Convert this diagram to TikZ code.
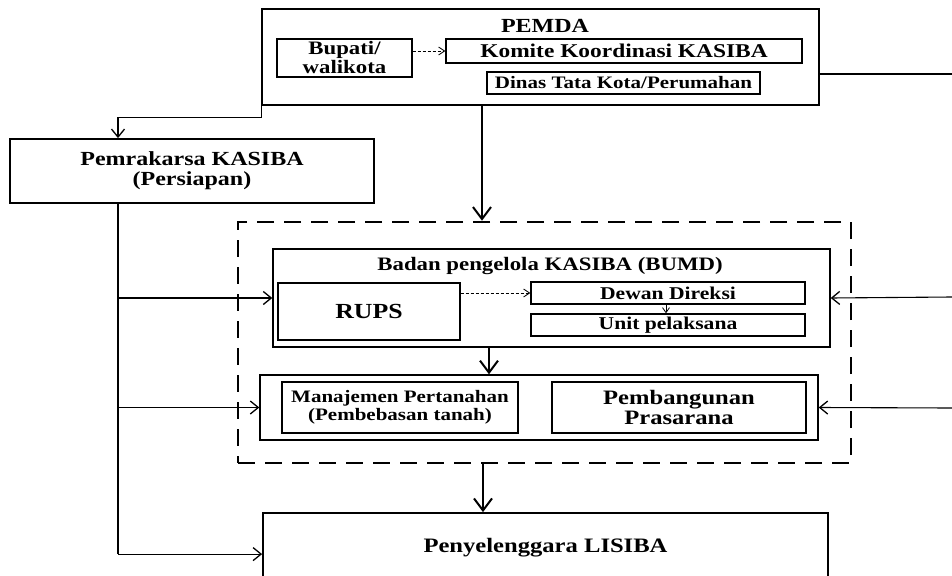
\documentclass[tikz,border=0pt]{standalone}
\usepackage{fontspec}
\setmainfont{Liberation Serif}[FakeStretch=1.2]
\usetikzlibrary{arrows.meta,calc}
\begin{document}
\begin{tikzpicture}[x=1pt,y=-1pt,
  box/.style={draw, line width=1.6pt, inner sep=0pt, align=center},
  fs/.style={font=\fontsize{#1}{#1}\selectfont\bfseries},
  bigarr/.style={line width=2.4pt, -{Straight Barb[length=12pt,width=18pt,line width=2pt]}},
  thinarr/.style={line width=1.1pt, -{Straight Barb[length=8pt,width=13pt,line width=1.3pt]}},
  smallarr/.style={line width=0.8pt, -{Straight Barb[length=5pt,width=7pt]}},
  dasharr/.style={line width=0.8pt, dash pattern=on 3pt off 2pt, -{Straight Barb[length=6pt,width=8pt]}},
  dbox/.style={draw, dash pattern=on 17pt off 10pt, line width=2.6pt, inner sep=0pt}
]
\useasboundingbox (0,0) rectangle (952,575);
% helper coordinates
\coordinate (xL) at (118,0);
\coordinate (xA) at (482,0);
\coordinate (xB) at (489,0);
\coordinate (xC) at (483,0);
\coordinate (xD) at (666,0);
\coordinate (r0) at (952,74);
\coordinate (r1) at (952,297);
\coordinate (r2) at (952,408);

% PEMDA
\node[box, minimum width=557pt, minimum height=96pt, line width=1.8pt] (pemda) at (540.5,57) {};
\node[fs=20] (pemdat) at (545,26) {PEMDA};
\node[box, fs=19, minimum width=135pt, minimum height=38pt, line width=1.4pt] (bupati) at (344.5,58) {\fontsize{19}{18}\selectfont Bupati/\\walikota};
\node[box, fs=19.5, minimum width=356pt, minimum height=24pt, line width=1.4pt] (komite) at (624,51) {Komite Koordinasi KASIBA};
\node[box, fs=17.5, minimum width=273pt, minimum height=22pt, line width=1.4pt] (dinas) at (623.5,83) {Dinas Tata Kota/Perumahan};

% Pemrakarsa
\node[box, fs=20, minimum width=364pt, minimum height=64pt, line width=1.8pt] (pem) at (192,171) {\fontsize{20}{23}\selectfont Pemrakarsa KASIBA\\(Persiapan)};

% dashed group
\node[dbox, minimum width=613pt, minimum height=241pt] (grp) at (544.5,342.5) {};

% Badan
\node[box, minimum width=557pt, minimum height=98pt, line width=1.4pt] (badan) at (551.5,298) {};
\node[fs=19] (badant) at (550,266) {Badan pengelola KASIBA (BUMD)};
\node[box, fs=21.5, minimum width=182pt, minimum height=57pt, line width=1.4pt] (rups) at (369,311.5) {RUPS};
\node[box, fs=18, minimum width=274pt, minimum height=22pt, line width=1.4pt] (dewan) at (668,293) {Dewan Direksi};
\node[box, fs=18, minimum width=274pt, minimum height=22pt, line width=1.4pt] (unit) at (668,325) {Unit pelaksana};

% lower group
\node[box, minimum width=558pt, minimum height=65pt, line width=1.4pt] (lower) at (539,407.5) {};
\node[box, fs=17.5, minimum width=236pt, minimum height=51pt] (manaj) at (400,407.5) {\fontsize{17.5}{22}\selectfont Manajemen Pertanahan\\(Pembebasan tanah)};
\node[box, fs=20.5, minimum width=254pt, minimum height=51pt] (pemb) at (679,407.5) {\fontsize{20.5}{23}\selectfont Pembangunan\\Prasarana};

% Penyelenggara
\node[box, fs=20.5, minimum width=565pt, minimum height=70pt, line width=1.8pt] (pen) at (545.5,548) {Penyelenggara LISIBA};

% connectors
\draw[dasharr] (bupati.east |- komite) -- (komite.west);
\draw[line width=1.1pt] (pemda.east |- r0) -- (r0);
\draw[thinarr] (pemda.south west) -- ++(0,12) -| (pem.north -| xL);
\draw[bigarr] (pemda.south -| xA) -- (grp.north -| xA);
\draw[line width=1.1pt] (pem.south -| xL) -- ($(pen.north west -| xL)+(0,42)$);
\draw[thinarr] (xL |- badan.west) -- (badan.west);
\draw[thinarr] (xL |- lower.west) -- (lower.west);
\draw[thinarr] ($(pen.north west -| xL)+(0,42)$) -- ($(pen.north west)+(0,42)$);
\draw[dasharr] (rups.east |- dewan) -- (dewan.west);
\draw[smallarr] (dewan.south -| xD) -- (unit.north -| xD);
\draw[bigarr] (badan.south -| xB) -- (lower.north -| xB);
\draw[bigarr] (grp.south -| xC) -- (pen.north -| xC);
\draw[thinarr] (r1) -- (badan.east);
\draw[thinarr] (r2) -- (lower.east);
\end{tikzpicture}
\end{document}
